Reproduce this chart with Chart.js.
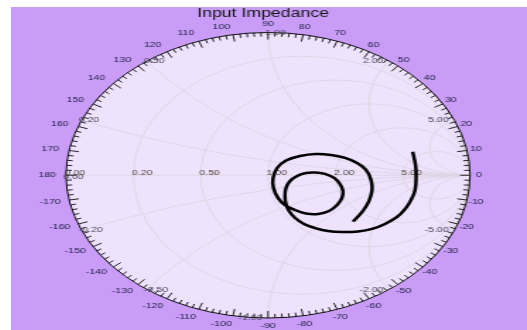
<!DOCTYPE html>
<html>
<head>
<meta charset="utf-8">
<script src="https://cdn.jsdelivr.net/npm/chart.js@4.4.0/dist/chart.umd.min.js"></script>
<style>
  html, body { margin: 0; padding: 0; background: #ffffff; }
  /* the original is a round Smith chart stretched sideways, so the canvas is too */
  #smith { position: absolute; left: 11px; top: 7px; width: 516px !important; height: 323px !important; }
</style>
</head>
<body>
<canvas id="smith" width="365" height="323" style="width:516px;height:323px"></canvas>
<script>
// grid values
const resistanceValues = [0, 0.2, 0.5, 1, 2, 5];
const reactanceValues = [0, 0.2, 0.5, 1, 2, 5, -0.2, -0.5, -1, -2, -5];
const angleTicks = [0, 10, 20, 30, 40, 50, 60, 70, 80, 90, 100, 110, 120, 130, 140, 150, 160, 170, 180,
  -170, -160, -150, -140, -130, -120, -110, -100, -90, -80, -70, -60, -50, -40, -30, -20, -10];

// input impedance trace, reflection coefficient
const gammaRe = [0.716, 0.730, 0.733, 0.728, 0.708, 0.683, 0.639, 0.579, 0.515, 0.446,
  0.366, 0.297, 0.233, 0.178, 0.134, 0.104, 0.089, 0.084, 0.089, 0.109,
  0.144, 0.188, 0.233, 0.282, 0.327, 0.356, 0.371, 0.366, 0.342, 0.302,
  0.248, 0.188, 0.134, 0.084, 0.050, 0.027, 0.025, 0.045, 0.089, 0.158,
  0.238, 0.312, 0.381, 0.441, 0.485, 0.510, 0.515, 0.500, 0.470, 0.421];
const gammaIm = [0.165, 0.072, -0.005, -0.103, -0.173, -0.229, -0.292, -0.341, -0.376, -0.394,
  -0.398, -0.391, -0.370, -0.342, -0.300, -0.251, -0.202, -0.145, -0.089, -0.040,
  -0.005, 0.016, 0.019, 0.009, -0.019, -0.061, -0.110, -0.159, -0.208, -0.250,
  -0.271, -0.268, -0.244, -0.209, -0.160, -0.089, -0.019, 0.051, 0.103, 0.135,
  0.149, 0.142, 0.121, 0.086, 0.037, -0.033, -0.103, -0.180, -0.250, -0.325];

const trace = gammaRe.map((re, i) => ({ x: re, y: gammaIm[i] }));

const smithGrid = {
  id: 'smithGrid',
  beforeDraw(chart) {
    const ctx = chart.ctx;
    ctx.save();
    ctx.fillStyle = '#c99cf8';
    ctx.fillRect(0, 0, chart.width, chart.height);
    ctx.restore();
  },
  beforeDatasetsDraw(chart) {
    const ctx = chart.ctx;
    const xs = chart.scales.x, ys = chart.scales.y;
    const cx = xs.getPixelForValue(0), cy = ys.getPixelForValue(0);
    const rx = xs.getPixelForValue(1) - cx, ry = cy - ys.getPixelForValue(1);

    ctx.save();
    ctx.beginPath();
    ctx.ellipse(cx, cy, rx, ry, 0, 0, Math.PI * 2);
    ctx.fillStyle = '#efe2fd';
    ctx.fill();
    ctx.clip();

    ctx.strokeStyle = '#dbd5df';
    ctx.lineWidth = 0.8;
    resistanceValues.filter(r => r > 0).forEach(r => {
      ctx.beginPath();
      ctx.ellipse(xs.getPixelForValue(r / (r + 1)), cy, rx / (r + 1), ry / (r + 1), 0, 0, Math.PI * 2);
      ctx.stroke();
    });
    reactanceValues.filter(v => v !== 0).forEach(v => {
      const rad = 1 / Math.abs(v);
      ctx.beginPath();
      ctx.ellipse(xs.getPixelForValue(1), ys.getPixelForValue(1 / v), rx * rad, ry * rad, 0, 0, Math.PI * 2);
      ctx.stroke();
    });
    ctx.beginPath();
    ctx.moveTo(cx - rx, cy);
    ctx.lineTo(cx + rx, cy);
    ctx.stroke();
    ctx.restore();

    // rim and degree ticks
    ctx.save();
    ctx.strokeStyle = '#111';
    ctx.lineWidth = 1;
    ctx.beginPath();
    ctx.ellipse(cx, cy, rx, ry, 0, 0, Math.PI * 2);
    ctx.stroke();
    ctx.lineWidth = 0.9;
    for (let d = -180; d < 180; d += 2) {
      const a = d * Math.PI / 180;
      const len = d % 10 === 0 ? 7 : 4;
      ctx.beginPath();
      ctx.moveTo(cx + rx * Math.cos(a), cy - ry * Math.sin(a));
      ctx.lineTo(cx + (rx - len) * Math.cos(a), cy - (ry - len) * Math.sin(a));
      ctx.stroke();
    }

    // degree labels
    ctx.font = '7.5px "Liberation Sans", Arial, sans-serif';
    ctx.fillStyle = '#26264a';
    ctx.textAlign = 'center';
    ctx.textBaseline = 'middle';
    angleTicks.forEach(d => {
      const a = d * Math.PI / 180;
      const shift = Math.cos(a) < -0.01 ? -7 : 0;
      ctx.fillText(String(d), cx + rx * 1.045 * Math.cos(a) + shift, cy - ry * 1.058 * Math.sin(a));
    });

    // resistance labels on the real axis
    ctx.font = '7.5px "Liberation Sans", Arial, sans-serif';
    ctx.fillStyle = '#524842';
    ctx.textAlign = 'left';
    resistanceValues.forEach(r => {
      ctx.fillText(r.toFixed(2), xs.getPixelForValue((r - 1) / (r + 1)) - 1, cy - 2.5);
    });

    // reactance labels on the rim
    ctx.fillStyle = '#4a4656';
    reactanceValues.forEach(v => {
      const gr = (v * v - 1) / (v * v + 1);
      const gi = 2 * v / (v * v + 1);
      const px = xs.getPixelForValue(gr), py = ys.getPixelForValue(gi);
      const leftSide = gr < -1e-6 || (Math.abs(gr) <= 1e-6 && v > 0);
      ctx.textAlign = leftSide ? 'left' : 'right';
      ctx.fillText(v.toFixed(2), leftSide ? px - 2 : px - 4, v === 0 ? py + 1.5 : py);
    });
    ctx.restore();
  },
  afterDraw(chart) {
    const ctx = chart.ctx;
    const area = chart.chartArea;
    ctx.save();
    ctx.font = '12.5px "Liberation Sans", Arial, sans-serif';
    ctx.fillStyle = '#141414';
    ctx.textAlign = 'center';
    ctx.textBaseline = 'alphabetic';
    ctx.fillText('Input Impedance', (area.left + area.right) / 2 - 3.5, 9.5);
    ctx.restore();
  }
};

const smithCtx = document.getElementById('smith').getContext('2d');
new Chart(smithCtx, {
  type: 'scatter',
  data: {
    datasets: [{
      label: 'Input Impedance',
      data: trace,
      showLine: true,
      borderColor: '#000000',
      borderWidth: 2.5,
      pointRadius: 0,
      tension: 0.4,
      fill: false
    }]
  },
  options: {
    responsive: false,
    animation: false,
    layout: {
      padding: { left: 38.9, right: 40.3, top: 25.5, bottom: 12 }
    },
    plugins: {
      legend: { display: false },
      tooltip: { enabled: false }
    },
    scales: {
      x: { type: 'linear', min: -1, max: 1, display: false },
      y: { type: 'linear', min: -1, max: 1, display: false }
    }
  },
  plugins: [smithGrid]
});
</script>
</body>
</html>
